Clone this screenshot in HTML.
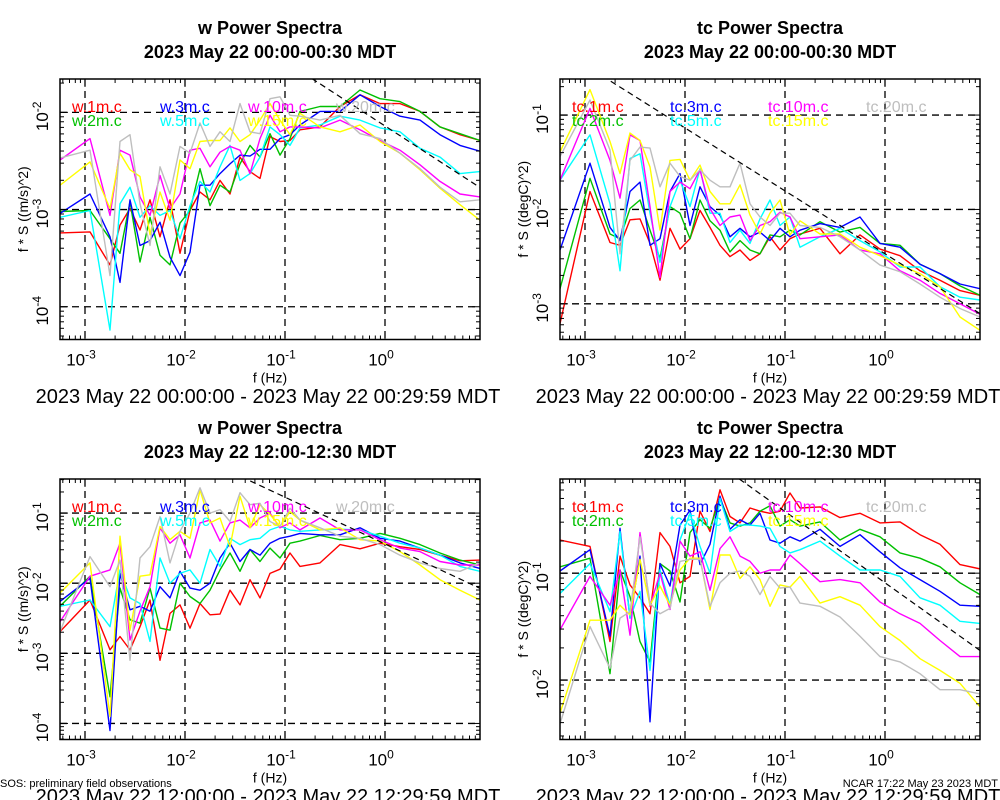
<!DOCTYPE html>
<html><head><meta charset="utf-8"><style>
body{margin:0;background:#fff;}
svg{display:block;font-family:"Liberation Sans",sans-serif;}
</style></head><body>
<svg id="chart" width="1000" height="800" viewBox="0 0 1000 800" xmlns="http://www.w3.org/2000/svg">
<rect width="1000" height="800" fill="#fff"/>
<text x="0" y="787" font-size="11">SOS: preliminary field observations</text>
<text x="998" y="787" font-size="11" text-anchor="end">NCAR 17:22 May 23 2023 MDT</text>
</svg>
<script>
// frequency (log10 Hz) of spectral points
const freqLog = [-3.25,-2.95,-2.75,-2.65,-2.55,-2.45,-2.35,-2.25,-2.15,-2.05,-1.95,-1.85,-1.75,-1.65,-1.55,-1.45,-1.35,-1.25,-1.15,-1.05,-0.95,-0.85,-0.65,-0.45,-0.25,-0.05,0.15,0.35,0.55,0.75,0.95];
const colors = ["#ff0000","#00c000","#0000ff","#00ffff","#ff00ff","#ffff00","#bebebe"];
const wNames = ["w.1m.c","w.2m.c","w.3m.c","w.5m.c","w.10m.c","w.15m.c","w.20m.c"];
const tcNames = ["tc.1m.c","tc.2m.c","tc.3m.c","tc.5m.c","tc.10m.c","tc.15m.c","tc.20m.c"];
const xTicks = [-3,-2,-1,0];
// Panel 1: w, 00:00 (log10 f*S)
const p1_w1 = [-3.24,-3.23,-3.57,-3.16,-2.99,-3.21,-2.90,-3.28,-2.90,-3.45,-3.01,-2.82,-2.90,-2.70,-2.84,-2.46,-2.61,-2.68,-2.25,-2.30,-2.29,-2.18,-2.15,-1.94,-1.82,-1.91,-1.91,-1.99,-2.15,-2.23,-2.29];
const p1_w2 = [-3.02,-3.01,-3.30,-3.45,-2.92,-3.54,-3.08,-3.47,-3.57,-3.14,-3.01,-2.58,-2.96,-2.75,-2.82,-2.53,-2.34,-2.46,-2.22,-2.44,-2.27,-1.99,-1.94,-1.94,-1.77,-1.86,-1.89,-1.99,-2.15,-2.22,-2.29];
const p1_w3 = [-3.04,-2.84,-3.28,-3.75,-2.90,-3.37,-3.32,-3.13,-3.49,-3.68,-3.44,-2.75,-2.75,-2.63,-2.53,-2.44,-2.45,-2.38,-2.38,-2.27,-2.23,-2.13,-1.99,-1.99,-1.82,-1.94,-2.04,-2.08,-2.23,-2.34,-2.40];
const p1_w5 = [-3.08,-3.01,-4.24,-2.94,-2.77,-3.08,-2.96,-3.06,-3.01,-3.30,-2.96,-2.71,-2.82,-2.56,-2.34,-2.70,-2.63,-2.46,-2.15,-2.23,-2.34,-2.16,-2.13,-2.04,-2.08,-2.16,-2.20,-2.37,-2.46,-2.63,-2.61];
const p1_w10 = [-2.49,-2.27,-3.06,-2.39,-2.44,-2.87,-3.06,-2.65,-2.99,-2.84,-2.39,-2.37,-2.56,-2.41,-2.35,-2.39,-2.63,-2.27,-2.03,-2.20,-2.15,-2.15,-2.16,-2.08,-2.18,-2.29,-2.39,-2.54,-2.71,-2.84,-2.87];
const p1_w15 = [-2.75,-2.51,-2.99,-2.42,-2.59,-2.66,-3.26,-2.82,-3.11,-2.49,-2.58,-2.30,-2.29,-2.29,-2.16,-2.30,-2.23,-2.08,-1.91,-2.08,-2.23,-2.01,-2.15,-2.20,-2.13,-2.30,-2.42,-2.59,-2.78,-2.95,-3.11];
const p1_w20 = [-2.47,-2.39,-3.68,-2.30,-2.23,-2.94,-3.37,-2.56,-2.84,-2.35,-2.42,-2.11,-2.35,-2.20,-2.30,-1.91,-2.20,-2.22,-1.86,-1.84,-2.03,-2.04,-2.08,-2.03,-2.22,-2.27,-2.42,-2.58,-2.77,-2.92,-2.90];
// Panel 2: tc, 00:00
const p2_t1 = [-3.21,-1.81,-2.35,-2.38,-2.11,-2.10,-2.36,-2.75,-2.20,-2.42,-2.31,-2.01,-2.19,-2.38,-2.50,-2.43,-2.54,-2.47,-2.29,-2.43,-2.31,-2.26,-2.20,-2.47,-2.27,-2.42,-2.49,-2.65,-2.75,-2.86,-2.91];
const p2_t2 = [-2.84,-1.67,-2.26,-2.31,-1.99,-1.90,-2.22,-2.52,-1.97,-2.04,-2.31,-1.90,-2.12,-2.22,-2.45,-2.33,-2.43,-2.47,-2.27,-2.29,-2.22,-2.27,-2.13,-2.24,-2.19,-2.36,-2.38,-2.58,-2.68,-2.81,-2.91];
const p2_t3 = [-2.43,-1.51,-2.19,-2.33,-1.81,-1.71,-2.38,-2.31,-1.81,-1.62,-2.17,-1.76,-1.97,-2.06,-2.29,-2.20,-2.29,-2.24,-2.33,-2.20,-2.29,-2.22,-2.15,-2.19,-2.08,-2.36,-2.40,-2.58,-2.68,-2.79,-2.84];
const p2_t5 = [-1.69,-1.21,-1.94,-2.65,-1.46,-1.41,-2.04,-2.56,-1.97,-1.69,-1.97,-1.57,-2.04,-2.04,-2.35,-2.22,-2.36,-2.10,-1.90,-2.17,-2.08,-2.40,-2.29,-2.20,-2.33,-2.45,-2.61,-2.61,-2.82,-2.93,-2.96];
const p2_t10 = [-1.69,-0.93,-1.48,-1.88,-1.21,-1.27,-1.97,-2.72,-1.81,-1.71,-1.78,-1.58,-1.99,-2.17,-2.08,-2.06,-2.33,-2.17,-2.13,-2.03,-2.08,-2.31,-2.29,-2.27,-2.43,-2.47,-2.65,-2.75,-2.89,-3.00,-3.11];
const p2_t15 = [-1.39,-0.73,-1.28,-1.62,-1.19,-1.27,-1.55,-2.22,-1.48,-1.47,-1.69,-1.53,-1.81,-1.94,-1.94,-1.74,-2.06,-2.26,-2.04,-1.90,-2.27,-2.12,-2.26,-2.26,-2.40,-2.49,-2.59,-2.68,-2.82,-3.14,-3.28];
const p2_t20 = [-1.44,-0.84,-1.37,-2.47,-1.48,-1.34,-1.35,-1.76,-1.51,-1.65,-1.69,-1.58,-1.69,-1.76,-1.76,-1.51,-1.94,-2.08,-2.17,-2.04,-2.04,-2.17,-2.19,-2.29,-2.43,-2.59,-2.66,-2.79,-2.93,-3.05,-3.14];
// Panel 3: w, 12:00
const p3_w1 = [-2.69,-2.24,-2.95,-2.76,-2.95,-2.62,-2.24,-3.10,-2.43,-2.31,-2.64,-2.29,-2.45,-2.44,-2.10,-2.31,-1.95,-2.21,-1.86,-1.80,-1.57,-1.76,-1.71,-1.45,-1.51,-1.43,-1.48,-1.52,-1.60,-1.68,-1.67];
const p3_w2 = [-2.33,-1.90,-3.62,-2.07,-2.52,-2.57,-2.07,-2.64,-2.67,-2.00,-2.19,-2.29,-2.10,-1.81,-1.57,-1.83,-1.52,-1.69,-1.50,-1.64,-1.43,-1.40,-1.32,-1.38,-1.36,-1.29,-1.36,-1.45,-1.57,-1.67,-1.74];
const p3_w3 = [-2.26,-1.93,-4.10,-1.86,-2.38,-2.33,-2.40,-2.05,-2.21,-1.83,-2.07,-2.10,-2.00,-1.64,-1.43,-1.69,-1.52,-1.60,-1.43,-1.36,-1.33,-1.29,-1.31,-1.31,-1.21,-1.36,-1.40,-1.50,-1.60,-1.71,-1.79];
const p3_w5 = [-2.33,-2.24,-2.62,-1.81,-2.21,-2.29,-2.83,-1.64,-2.00,-1.86,-1.81,-2.00,-1.52,-1.76,-1.36,-1.45,-1.38,-1.36,-1.24,-1.19,-1.24,-1.26,-1.24,-1.23,-1.24,-1.33,-1.43,-1.50,-1.60,-1.76,-1.83];
const p3_w10 = [-2.55,-1.90,-1.81,-1.43,-2.81,-2.40,-2.05,-1.21,-1.43,-1.31,-1.64,-1.14,-1.10,-1.40,-1.14,-1.10,-1.21,-1.07,-1.00,-1.21,-1.14,-1.24,-1.07,-1.24,-1.24,-1.38,-1.50,-1.55,-1.69,-1.74,-1.74];
const p3_w15 = [-2.14,-1.71,-3.90,-1.33,-2.67,-1.90,-1.88,-1.19,-1.38,-1.26,-1.36,-0.67,-1.14,-1.07,-1.48,-0.76,-1.21,-0.88,-1.02,-1.19,-0.98,-1.10,-1.24,-1.21,-1.38,-1.40,-1.55,-1.74,-1.95,-2.10,-2.24];
const p3_w20 = [-2.69,-1.62,-2.05,-1.67,-3.10,-1.64,-1.48,-1.05,-1.71,-1.26,-1.00,-0.64,-1.00,-0.95,-1.12,-0.71,-0.88,-0.86,-1.12,-1.19,-0.93,-1.10,-1.21,-1.33,-1.36,-1.45,-1.60,-1.71,-1.79,-1.83,-1.71];
// Panel 4: tc, 12:00
const p4_t1 = [-0.69,-0.75,-1.64,-0.84,-1.11,-1.23,-1.38,-0.62,-0.75,-1.09,-1.03,-0.42,-0.61,-0.22,-0.47,-0.53,-0.39,-0.42,-0.44,-0.42,-0.25,-0.39,-0.38,-0.48,-0.44,-0.53,-0.52,-0.64,-0.73,-0.92,-0.96];
const p4_t2 = [-0.94,-0.86,-1.94,-0.97,-1.22,-1.64,-1.83,-0.91,-0.98,-1.27,-0.62,-0.50,-0.58,-0.30,-0.53,-0.56,-0.53,-0.42,-0.37,-0.56,-0.50,-0.56,-0.52,-0.69,-0.59,-0.66,-0.81,-0.86,-0.94,-1.09,-1.20];
const p4_t3 = [-0.98,-0.78,-1.59,-0.58,-1.42,-0.84,-2.39,-0.91,-1.12,-0.55,-0.41,-0.92,-0.73,-0.28,-0.59,-0.50,-0.55,-0.44,-0.69,-0.72,-0.66,-0.70,-0.59,-0.75,-0.64,-0.80,-0.95,-1.06,-1.17,-1.30,-1.31];
const p4_t5 = [-1.19,-0.91,-1.36,-0.61,-1.42,-1.17,-1.91,-0.97,-1.30,-0.69,-0.44,-0.75,-1.00,-0.30,-0.61,-0.55,-0.55,-0.56,-0.58,-0.75,-0.81,-0.78,-0.70,-0.84,-0.97,-0.97,-1.03,-1.23,-1.30,-1.45,-1.47];
const p4_t10 = [-1.53,-1.03,-1.30,-0.97,-1.58,-0.62,-1.31,-1.00,-1.34,-0.70,-0.84,-0.80,-1.16,-0.77,-0.66,-0.84,-0.89,-1.00,-0.97,-0.97,-0.83,-0.91,-1.08,-1.06,-1.09,-1.27,-1.38,-1.47,-1.63,-1.78,-1.78];
const p4_t15 = [-2.31,-1.44,-1.44,-1.30,-1.39,-0.87,-1.30,-1.12,-1.30,-0.97,-0.86,-0.86,-1.34,-0.83,-0.83,-1.05,-0.94,-1.06,-1.31,-1.11,-1.13,-1.03,-1.28,-1.22,-1.30,-1.50,-1.63,-1.80,-1.91,-2.03,-2.25];
const p4_t20 = [-2.41,-1.50,-1.89,-1.42,-1.36,-0.66,-1.28,-1.38,-1.33,-0.89,-0.87,-0.87,-1.31,-1.09,-1.00,-0.98,-1.03,-1.20,-1.03,-1.14,-1.13,-1.28,-1.31,-1.41,-1.59,-1.78,-1.83,-1.94,-2.09,-2.09,-2.13];
// Panel axis settings
const p1_yTicks = [-2,-3,-4];
const p2_yTicks = [-1,-2,-3];
const p3_yTicks = [-1,-2,-3,-4];
const p4_yTicks = [-1,-2];
const refIntercept = [-2.14,-2.47,-1.44,-1.09]; // -2/3 slope reference line

const NS="http://www.w3.org/2000/svg";
const svg=document.getElementById('chart');
function mk(tag,attrs,parent){const e=document.createElementNS(NS,tag);for(const k in attrs)e.setAttribute(k,attrs[k]);(parent||svg).appendChild(e);return e;}

const panels=[
 {key:'w-00',ox:0,oy:0,var:'w',t2:'2023 May 22 00:00-00:30 MDT',foot:'2023 May 22 00:00:00 - 2023 May 22 00:29:59 MDT',yl:'f * S ((m/s)^2)',ymax:-1.657,ymin:-4.337,ticks:p1_yTicks,series:[p1_w1,p1_w2,p1_w3,p1_w5,p1_w10,p1_w15,p1_w20],names:wNames,ref:refIntercept[0]},
 {key:'tc-00',ox:500,oy:0,var:'tc',t2:'2023 May 22 00:00-00:30 MDT',foot:'2023 May 22 00:00:00 - 2023 May 22 00:29:59 MDT',yl:'f * S ((degC)^2)',ymax:-0.618,ymin:-3.378,ticks:p2_yTicks,series:[p2_t1,p2_t2,p2_t3,p2_t5,p2_t10,p2_t15,p2_t20],names:tcNames,ref:refIntercept[1]},
 {key:'w-12',ox:0,oy:400,var:'w',t2:'2023 May 22 12:00-12:30 MDT',foot:'2023 May 22 12:00:00 - 2023 May 22 12:29:59 MDT',yl:'f * S ((m/s)^2)',ymax:-0.514,ymin:-4.229,ticks:p3_yTicks,series:[p3_w1,p3_w2,p3_w3,p3_w5,p3_w10,p3_w15,p3_w20],names:wNames,ref:refIntercept[2]},
 {key:'tc-12',ox:500,oy:400,var:'tc',t2:'2023 May 22 12:00-12:30 MDT',foot:'2023 May 22 12:00:00 - 2023 May 22 12:29:59 MDT',yl:'f * S ((degC)^2)',ymax:-0.119,ymin:-2.556,ticks:p4_yTicks,series:[p4_t1,p4_t2,p4_t3,p4_t5,p4_t10,p4_t15,p4_t20],names:tcNames,ref:refIntercept[3]}
];
const XMIN=-3.25,XMAX=0.95;
panels.forEach((p,pi)=>{
  const L=p.ox+60,R=p.ox+480,T=p.oy+79,B=p.oy+339.5;
  const sx=v=>L+(v-XMIN)/(XMAX-XMIN)*(R-L);
  const sy=v=>T+(p.ymax-v)/(p.ymax-p.ymin)*(B-T);
  const g=mk('g',{});
  
  
  const cx=(L+R)/2;
  const t1=mk('text',{x:cx,y:p.oy+34,'font-size':18,'font-weight':'bold','text-anchor':'middle'},g);t1.textContent=p.var+' Power Spectra';
  
  const t2=mk('text',{x:cx,y:p.oy+58,'font-size':18,'font-weight':'bold','text-anchor':'middle'},g);t2.textContent=p.t2;
  
  const clipId='clip'+pi;
  const cp=mk('clipPath',{id:clipId},g);mk('rect',{x:L,y:T,width:R-L,height:B-T},cp);
  // grid
  xTicks.forEach(v=>{const l=mk('line',{x1:sx(v),x2:sx(v),y1:T,y2:B,stroke:'#000','stroke-width':1.3,'stroke-dasharray':'7,5'},g);
    });
  p.ticks.forEach(v=>{const l=mk('line',{x1:L,x2:R,y1:sy(v),y2:sy(v),stroke:'#000','stroke-width':1.3,'stroke-dasharray':'7,5'},g);
    });
  // series
  const sg=mk('g',{'clip-path':'url(#'+clipId+')'},g);
  p.series.forEach((s,si)=>{
    const pts=s.map((v,i)=>sx(freqLog[i]).toFixed(1)+','+sy(v).toFixed(1)).join(' ');
    const pl=mk('polyline',{points:pts,fill:'none',stroke:colors[si],'stroke-width':1.4,'stroke-linejoin':'round'},sg);
    
    
  });
  // reference line
  const rl=mk('line',{x1:sx(XMIN),y1:sy(p.ref-2/3*XMIN),x2:sx(XMAX),y2:sy(p.ref-2/3*XMAX),stroke:'#000','stroke-width':1.2,'stroke-dasharray':'6,4'},sg);
  
  // legend
  p.names.forEach((n,i)=>{
    let c=i<2?0:i<4?1:i<6?2:3, r=i<6?i%2:0;
    const lt=mk('text',{x:L+12+c*(p.var=='w'?88:98),y:T+33+r*14,'font-size':16,fill:colors[i]},g);lt.textContent=n;
    
  });
  // frame
  const fr=mk('rect',{x:L,y:T,width:R-L,height:B-T,fill:'none',stroke:'#000','stroke-width':1.5},g);
  
  // minor ticks
  for(let d=-4;d<=0;d++)for(let m=1;m<10;m++){const v=d+Math.log10(m);if(v<XMIN||v>XMAX)continue;const len=m==1?8:4;const x=sx(v);
    mk('line',{x1:x,x2:x,y1:B,y2:B-len,stroke:'#000','stroke-width':1},g);mk('line',{x1:x,x2:x,y1:T,y2:T+len,stroke:'#000','stroke-width':1},g);}
  for(let d=-5;d<=0;d++)for(let m=1;m<10;m++){const v=d+Math.log10(m);if(v<p.ymin||v>p.ymax)continue;const len=m==1?8:4;const y=sy(v);
    mk('line',{x1:L,x2:L+len,y1:y,y2:y,stroke:'#000','stroke-width':1},g);mk('line',{x1:R,x2:R-len,y1:y,y2:y,stroke:'#000','stroke-width':1},g);}
  // x tick labels
  xTicks.forEach(v=>{const t=mk('text',{x:sx(v)-4,y:B+26,'font-size':17,'text-anchor':'middle'},g);
    t.textContent='10';const s=mk('tspan',{dy:-7,'font-size':12},t);s.textContent=String(v);
    });
  // y tick labels (rotated)
  p.ticks.forEach(v=>{const y=sy(v);const t=mk('text',{x:0,y:0,'font-size':17,'text-anchor':'middle',transform:'translate('+(L-12)+','+(y+4)+') rotate(-90)'},g);
    t.textContent='10';const s=mk('tspan',{dy:-7,'font-size':12},t);s.textContent=String(v);
    });
  const yl=mk('text',{'font-size':14,'text-anchor':'middle',transform:'translate('+(p.ox+28)+','+((T+B)/2)+') rotate(-90)'},g);yl.textContent=p.yl;
  
  const xl=mk('text',{x:cx,y:B+43,'font-size':14,'text-anchor':'middle'},g);xl.textContent='f (Hz)';
  
  const ft=mk('text',{x:p.ox+268,y:p.oy+403,'font-size':20,'text-anchor':'middle'},g);ft.textContent=p.foot;
  
});
</script>
</body></html>
